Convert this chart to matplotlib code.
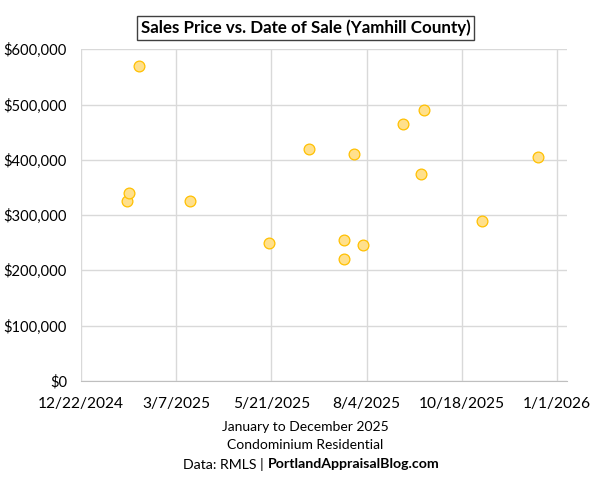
import datetime as dt

import matplotlib
matplotlib.use("Agg")
import matplotlib.pyplot as plt
import matplotlib.dates as mdates
from matplotlib.ticker import FuncFormatter, MultipleLocator

# ── Fonts ─────────────────────────────────────────────────────────────
plt.rcParams["font.family"] = ["Lato", "DejaVu Sans"]

# ── Data ──────────────────────────────────────────────────────────────
sale_dates = [
    "2025-01-27", "2025-01-29", "2025-02-06", "2025-03-18", "2025-05-19",
    "2025-06-20", "2025-07-17", "2025-07-17", "2025-07-25", "2025-08-01",
    "2025-09-02", "2025-09-16", "2025-09-18", "2025-11-03", "2025-12-17",
]
sale_prices = [
    325000, 340000, 570000, 325000, 250000,
    420000, 255000, 220000, 410000, 245000,
    465000, 375000, 490000, 290000, 405000,
]
x_start = "2024-12-22"
x_end = "2026-01-09"
tick_step_days = 75
y_max = 600000
y_step = 100000

title = "Sales Price vs. Date of Sale (Yamhill County)"
footer_lines = ["January to December 2025", "Condominium Residential"]
source_plain = "Data: RMLS | "
source_bold = "PortlandAppraisalBlog.com"

# ── Colours ───────────────────────────────────────────────────────────
FILL = "#FFE08C"
EDGE = "#FFC000"
GRID = "#D9D9D9"
TEXT = "#000000"

dates = [dt.datetime.strptime(d, "%Y-%m-%d") for d in sale_dates]
d0 = dt.datetime.strptime(x_start, "%Y-%m-%d")
d1 = dt.datetime.strptime(x_end, "%Y-%m-%d")

fig = plt.figure(figsize=(6.11, 4.80), dpi=100, facecolor="white")
ax = fig.add_axes([0.1326, 0.2067, 0.7954, 0.6906])

ax.scatter(dates, sale_prices, s=60, facecolor=FILL, edgecolor=EDGE,
           linewidth=0.9, zorder=3)

ax.set_xlim(d0, d1)
ax.set_ylim(0, y_max)

ticks = [mdates.date2num(d0 + dt.timedelta(days=tick_step_days * i))
         for i in range(6)]
ax.set_xticks(ticks)
ax.xaxis.set_major_formatter(FuncFormatter(
    lambda v, _: "{d.month}/{d.day}/{d.year}".format(d=mdates.num2date(v))))
ax.yaxis.set_major_locator(MultipleLocator(y_step))
ax.yaxis.set_major_formatter(FuncFormatter(lambda v, _: f"${v:,.0f}"))

ax.grid(True, color=GRID, linewidth=1.0, zorder=0)
ax.set_axisbelow(True)
for side in ("top", "right", "left"):
    ax.spines[side].set_visible(False)
ax.spines["bottom"].set_color("#BFBFBF")
ax.tick_params(length=0, colors=TEXT)
ax.tick_params(axis="x", pad=12, labelsize=11.2)
ax.tick_params(axis="y", pad=10, labelsize=10.6)

# title in a box
fig.text(0.5, 0.942, title, ha="center", va="center", fontsize=12.2,
         fontweight="bold", color=TEXT,
         bbox=dict(boxstyle="square,pad=0.22", facecolor="white",
                   edgecolor="#404040", linewidth=1.0))

# footer lines
fig.text(0.5, 0.110, footer_lines[0], ha="center", va="center",
         fontsize=10, color=TEXT)
fig.text(0.5, 0.072, footer_lines[1], ha="center", va="center",
         fontsize=10, color=TEXT)
fig.text(0.437, 0.033, source_plain, ha="right", va="center",
         fontsize=10.2, color=TEXT)
fig.text(0.438, 0.033, source_bold, ha="left", va="center",
         fontsize=10.2, fontweight="bold", color=TEXT)

fig.savefig("out.png", dpi=100, facecolor="white")
